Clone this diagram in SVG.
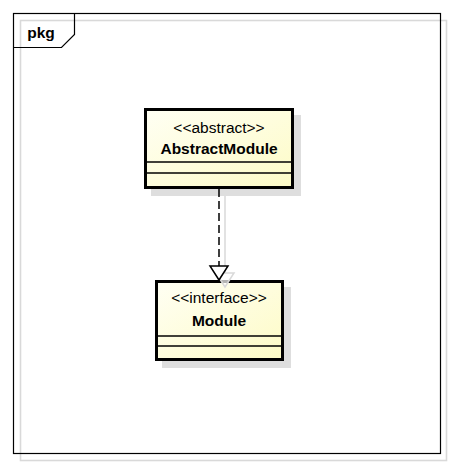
<svg xmlns="http://www.w3.org/2000/svg" width="453" height="466" viewBox="0 0 453 466">
  <style>
    .frame { fill: none; stroke: #000; stroke-width: 1.2; }
    .frameShadow { fill: none; stroke: #d9d9d9; stroke-width: 1.6; }
    .shadow { fill: #dedede; }
    .box { fill: url(#cls); stroke: #000; stroke-width: 3; }
    .sep { stroke: #000; stroke-width: 1.5; }
    .stereo { font-family: "Liberation Sans", Arial, sans-serif; font-size: 15.5px; fill: #000; text-anchor: middle; }
    .name { font-family: "Liberation Sans", Arial, sans-serif; font-size: 15.5px; font-weight: bold; fill: #000; text-anchor: middle; }
    .dep { fill: none; stroke: #000; stroke-width: 1.5; stroke-dasharray: 8 4; }
    .depShadow { fill: none; stroke: #d9d9d9; stroke-width: 1.5; }
  </style>
  <defs>
    <linearGradient id="cls" x1="0" y1="0" x2="1" y2="1">
      <stop offset="0" stop-color="#fffff4"/>
      <stop offset="1" stop-color="#fdfbc6"/>
    </linearGradient>
  </defs>
  <rect width="453" height="466" fill="#fff"/>

  <g id="frame">
    <rect class="frameShadow" x="20.5" y="20.5" width="426" height="440"/>
    <rect class="frame" x="13.5" y="13.5" width="427" height="440"/>
    <path class="frame" d="M13.5 47.5 L61.5 47.5 L74.5 34.5 L74.5 13.5"/>
    <text x="41" y="37.5" class="name">pkg</text>
  </g>

  <g id="AbstractModule">
    <rect class="shadow" x="151" y="115" width="150" height="81"/>
    <rect class="box" x="145.5" y="109.5" width="147" height="78"/>
    <line class="sep" x1="147" y1="162" x2="291" y2="162"/>
    <line class="sep" x1="147" y1="173" x2="291" y2="173"/>
    <text class="stereo" x="219" y="133">&lt;&lt;abstract&gt;&gt;</text>
    <text class="name" x="219" y="153.5">AbstractModule</text>
  </g>

  <g id="Module">
    <rect class="shadow" x="162" y="287" width="129" height="81"/>
    <rect class="box" x="156.5" y="281.5" width="126" height="78"/>
    <line class="sep" x1="158" y1="336" x2="281" y2="336"/>
    <line class="sep" x1="158" y1="346" x2="281" y2="346"/>
    <text class="stereo" x="219" y="303">&lt;&lt;interface&gt;&gt;</text>
    <text class="name" x="219" y="325.5">Module</text>
  </g>

  <g id="connectors">
    <line class="depShadow" x1="225" y1="196" x2="225" y2="273"/>
    <polygon points="216,273 234,273 225,287" fill="#fff" fill-opacity="0.7" stroke="#d9d9d9" stroke-width="1.5"/>
    <line class="dep" x1="219" y1="189" x2="219" y2="266"/>
    <polygon points="210,266 228,266 219,280" fill="#fff" stroke="#000" stroke-width="1.5"/>
  </g>
</svg>
